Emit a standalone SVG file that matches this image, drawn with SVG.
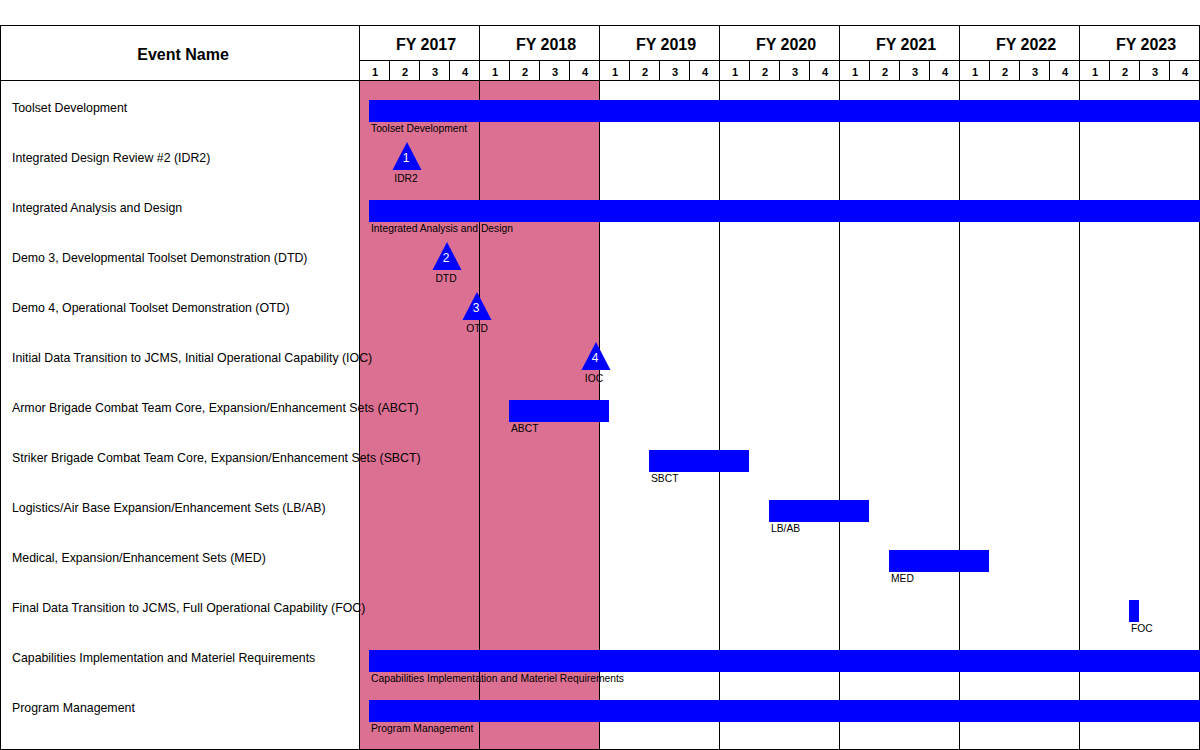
<svg xmlns="http://www.w3.org/2000/svg" width="1200" height="750" viewBox="0 0 1200 750">
<style>
.hdr{font-family:"Liberation Sans",Arial,sans-serif;font-weight:bold;fill:#000;text-anchor:middle}
.fy{font-size:16px}
.q{font-size:11px}
.row{font-family:"Liberation Sans",Arial,sans-serif;font-size:12.35px;fill:#000}
.bl{font-family:"Liberation Sans",Arial,sans-serif;font-size:10.3px;fill:#000}
.ml{font-family:"Liberation Sans",Arial,sans-serif;font-size:10.3px;fill:#000;text-anchor:middle}
.num{font-family:"Liberation Sans",Arial,sans-serif;font-size:12px;fill:#fff;text-anchor:middle}
.bar{fill:#0000ff}
.ln{stroke:#000;stroke-width:1;fill:none}
</style>
<rect x="0" y="0" width="1200" height="750" fill="#fff"/>
<rect x="360" y="81" width="240" height="669" fill="#db7093"/>

<g id="labels">
<text class="bl" x="371" y="132">Toolset Development</text>
<text class="bl" x="371" y="232">Integrated Analysis and Design</text>
<text class="bl" x="511" y="432">ABCT</text>
<text class="bl" x="651" y="482">SBCT</text>
<text class="bl" x="771" y="532">LB/AB</text>
<text class="bl" x="891" y="582">MED</text>
<text class="bl" x="1131" y="632">FOC</text>
<text class="bl" x="371" y="682">Capabilities Implementation and Materiel Requirements</text>
<text class="bl" x="371" y="732">Program Management</text>
<text class="ml" x="406" y="182">IDR2</text>
<text class="ml" x="446" y="282">DTD</text>
<text class="ml" x="477" y="332">OTD</text>
<text class="ml" x="594" y="382">IOC</text>
</g>

<g id="grid">
<rect class="ln" x="0.5" y="25.5" width="1199" height="724"/>
<line class="ln" x1="0" y1="80.5" x2="1200" y2="80.5"/>
<line class="ln" x1="360" y1="60.5" x2="1200" y2="60.5"/>
<line class="ln" x1="359.5" y1="25" x2="359.5" y2="750"/>
<line class="ln" x1="479.5" y1="25" x2="479.5" y2="750"/>
<line class="ln" x1="599.5" y1="25" x2="599.5" y2="750"/>
<line class="ln" x1="719.5" y1="25" x2="719.5" y2="750"/>
<line class="ln" x1="839.5" y1="25" x2="839.5" y2="750"/>
<line class="ln" x1="959.5" y1="25" x2="959.5" y2="750"/>
<line class="ln" x1="1079.5" y1="25" x2="1079.5" y2="750"/>
<path class="ln" d="M389.5 60V80M419.5 60V80M449.5 60V80M509.5 60V80M539.5 60V80M569.5 60V80M629.5 60V80M659.5 60V80M689.5 60V80M749.5 60V80M779.5 60V80M809.5 60V80M869.5 60V80M899.5 60V80M929.5 60V80M989.5 60V80M1019.5 60V80M1049.5 60V80M1109.5 60V80M1139.5 60V80M1169.5 60V80"/>
</g>

<g id="header">
<text class="hdr" x="183" y="60" font-size="16">Event Name</text>
<text class="hdr fy" x="426" y="50">FY 2017</text>
<text class="hdr fy" x="546" y="50">FY 2018</text>
<text class="hdr fy" x="666" y="50">FY 2019</text>
<text class="hdr fy" x="786" y="50">FY 2020</text>
<text class="hdr fy" x="906" y="50">FY 2021</text>
<text class="hdr fy" x="1026" y="50">FY 2022</text>
<text class="hdr fy" x="1146" y="50">FY 2023</text>
<g class="hdr q">
<text x="375" y="76">1</text><text x="405" y="76">2</text><text x="435" y="76">3</text><text x="465" y="76">4</text>
<text x="495" y="76">1</text><text x="525" y="76">2</text><text x="555" y="76">3</text><text x="585" y="76">4</text>
<text x="615" y="76">1</text><text x="645" y="76">2</text><text x="675" y="76">3</text><text x="705" y="76">4</text>
<text x="735" y="76">1</text><text x="765" y="76">2</text><text x="795" y="76">3</text><text x="825" y="76">4</text>
<text x="855" y="76">1</text><text x="885" y="76">2</text><text x="915" y="76">3</text><text x="945" y="76">4</text>
<text x="975" y="76">1</text><text x="1005" y="76">2</text><text x="1035" y="76">3</text><text x="1065" y="76">4</text>
<text x="1095" y="76">1</text><text x="1125" y="76">2</text><text x="1155" y="76">3</text><text x="1185" y="76">4</text>
</g>
</g>

<g id="rows">
<text class="row" x="12" y="112">Toolset Development</text>
<text class="row" x="12" y="162">Integrated Design Review #2 (IDR2)</text>
<text class="row" x="12" y="212">Integrated Analysis and Design</text>
<text class="row" x="12" y="262">Demo 3, Developmental Toolset Demonstration (DTD)</text>
<text class="row" x="12" y="312">Demo 4, Operational Toolset Demonstration (OTD)</text>
<text class="row" x="12" y="362">Initial Data Transition to JCMS, Initial Operational Capability (IOC)</text>
<text class="row" x="12" y="412">Armor Brigade Combat Team Core, Expansion/Enhancement Sets (ABCT)</text>
<text class="row" x="12" y="462">Striker Brigade Combat Team Core, Expansion/Enhancement Sets (SBCT)</text>
<text class="row" x="12" y="512">Logistics/Air Base Expansion/Enhancement Sets (LB/AB)</text>
<text class="row" x="12" y="562">Medical, Expansion/Enhancement Sets (MED)</text>
<text class="row" x="12" y="612">Final Data Transition to JCMS, Full Operational Capability (FOC)</text>
<text class="row" x="12" y="662">Capabilities Implementation and Materiel Requirements</text>
<text class="row" x="12" y="712">Program Management</text>
</g>

<g id="bars">
<rect id="bar-toolset" class="bar" x="369" y="100" width="831" height="22"/>
<rect id="bar-iad" class="bar" x="369" y="200" width="831" height="22"/>
<rect id="bar-abct" class="bar" x="509" y="400" width="100" height="22"/>
<rect id="bar-sbct" class="bar" x="649" y="450" width="100" height="22"/>
<rect id="bar-lbab" class="bar" x="769" y="500" width="100" height="22"/>
<rect id="bar-med" class="bar" x="889" y="550" width="100" height="22"/>
<rect id="bar-foc" class="bar" x="1129" y="600" width="10" height="22"/>
<rect id="bar-cimr" class="bar" x="369" y="650" width="831" height="22"/>
<rect id="bar-pm" class="bar" x="369" y="700" width="831" height="22"/>
</g>

<g id="milestones">
<g id="m-idr2"><polygon class="bar" points="407,142 421.5,170 392.5,170"/><text class="num" x="406" y="162">1</text></g>
<g id="m-dtd"><polygon class="bar" points="447,242 461.5,270 432.5,270"/><text class="num" x="446" y="262">2</text></g>
<g id="m-otd"><polygon class="bar" points="477,292 491.5,320 462.5,320"/><text class="num" x="476" y="312">3</text></g>
<g id="m-ioc"><polygon class="bar" points="596,342 610.5,370 581.5,370"/><text class="num" x="595" y="362">4</text></g>
</g>
</svg>
